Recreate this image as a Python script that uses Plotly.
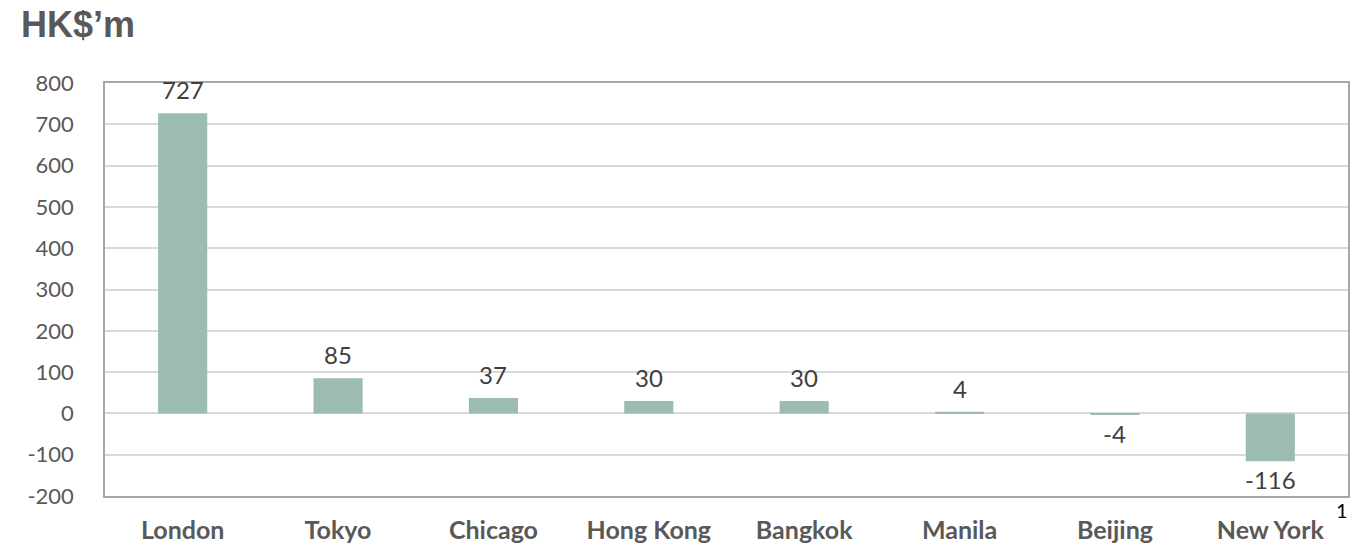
import plotly.graph_objects as go

cities = ["London", "Tokyo", "Chicago", "Hong Kong", "Bangkok", "Manila", "Beijing", "New York"]
values = [727, 85, 37, 30, 30, 4, -4, -116]
y_ticks = [-200, -100, 0, 100, 200, 300, 400, 500, 600, 700, 800]
y_tick_text = ["-200", "-100", "0", "100", "200", "300", "400", "500", "600", "700", "800"]

bar_color = "#9bbbb3"
text_color = "#595959"

fig = go.Figure()
fig.add_trace(go.Bar(x=cities, y=values, marker_color=bar_color, marker_line_width=0))

annotations = []
for c, v in zip(cities, values):
    annotations.append(dict(
        x=c, y=v, xref="x", yref="y", text=str(v), showarrow=False,
        yanchor="bottom" if v >= 0 else "top",
        yshift=7 if v >= 0 else -2,
        font=dict(family="Lato, Open Sans, sans-serif", size=24, color="#404040"),
    ))
annotations.append(dict(
    xref="paper", yref="paper", x=0.9885, y=-0.035, text="1", showarrow=False,
    xanchor="left", yanchor="middle",
    font=dict(family="Lato, sans-serif", size=20, color="#000000"),
))

fig.update_layout(
    width=1365, height=546,
    margin=dict(l=105, r=17, t=83, b=50),
    paper_bgcolor="white", plot_bgcolor="white",
    bargap=0.684,
    showlegend=False,
    title=dict(text="<b>HK$’m</b>", xref="container", yref="container",
               x=21 / 1365, y=1 - 24 / 546, xanchor="left", yanchor="middle",
               font=dict(family="Liberation Sans, Arial, sans-serif", size=36, color=text_color)),
    annotations=annotations,
    xaxis=dict(
        automargin=False,
        showgrid=False, showline=True, linecolor="#a6a6a6", linewidth=1.5, mirror=True,
        ticks="", ticklabelstandoff=11,
        tickfont=dict(family="Lato, Open Sans, sans-serif", size=25, color=text_color, weight="bold"),
    ),
    yaxis=dict(
        automargin=False,
        range=[-200, 800], tickvals=y_ticks, ticktext=y_tick_text,
        showgrid=True, gridcolor="#d9d9d9", gridwidth=1.5,
        showline=True, linecolor="#a6a6a6", linewidth=1.5, mirror=True,
        zeroline=True, zerolinecolor="#d9d9d9", zerolinewidth=1.5,
        ticks="", ticklabelstandoff=25,
        tickfont=dict(family="Lato, Open Sans, sans-serif", size=22, color=text_color),
    ),
)

fig.write_html("out.html")
